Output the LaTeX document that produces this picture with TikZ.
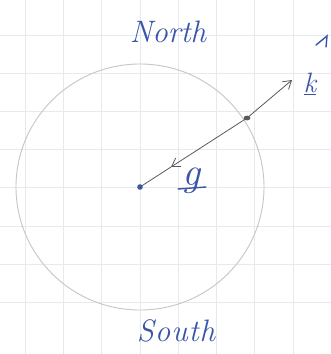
\documentclass[tikz,border=0pt]{standalone}
\usetikzlibrary{arrows.meta}
\definecolor{ink}{HTML}{3A55A8}
\definecolor{pencil}{HTML}{5A5A5A}
\definecolor{gridc}{HTML}{E6E9EE}
\tikzset{
  hand/.style={text=ink, font=\itshape},
  pen/.style={draw=pencil, line width=0.8pt},
}
\begin{document}
\begin{tikzpicture}[x=1pt,y=-1pt]
\useasboundingbox (0,0) rectangle (331,354);
\fill[white] (0,0) rectangle (331,354);
% grid
\foreach \i in {0,...,8} {
  \draw[gridc, line width=0.8pt] ({25+38.3*\i},0) -- ({25+38.3*\i},354);
}
\foreach \j in {0,...,8} {
  \draw[gridc, line width=0.8pt] (0,{-3.2+38.2*\j}) -- (331,{-3.2+38.2*\j});
}
% circle
\coordinate (C) at (140,187);
\draw[draw=gray!45, line width=0.9pt] (C) circle [x radius=124pt, y radius=-123pt];
% points
\coordinate (P) at (247,118);
\coordinate (T) at (292,80);
\coordinate (M) at (171,167);
\fill[ink] (C) circle (2.8pt);
\fill[pencil] (P) ellipse [x radius=3.4pt, y radius=2.4pt];
\draw[pen, -{Straight Barb[length=8pt,width=10pt]}] (P) -- (T);
\draw[pen, -{Straight Barb[length=8pt,width=10pt]}] (P) -- (M);
\draw[pen] (M) -- (C);
% labels
\node[hand, font=\fontsize{31}{33}\selectfont\itshape] (north) at (168,32) {North};
\node[hand, font=\fontsize{31}{33}\selectfont\itshape] (south) at (176,331) {S\kern1pt o\kern1pt u\kern1pt t\kern1pt h};
\node[hand, font=\fontsize{28}{30}\selectfont\itshape] (k) at (310,84) {\underline{k}};
\node[hand, font=\fontsize{40}{42}\selectfont\itshape] (g) at (191,181) {g};
\draw[ink, line width=1.4pt, line cap=round] (178,189) -- (206,187);
\draw[ink, line width=1.4pt, line cap=round] (316,45) -- (327,36) -- (326,47);
\end{tikzpicture}
\end{document}
